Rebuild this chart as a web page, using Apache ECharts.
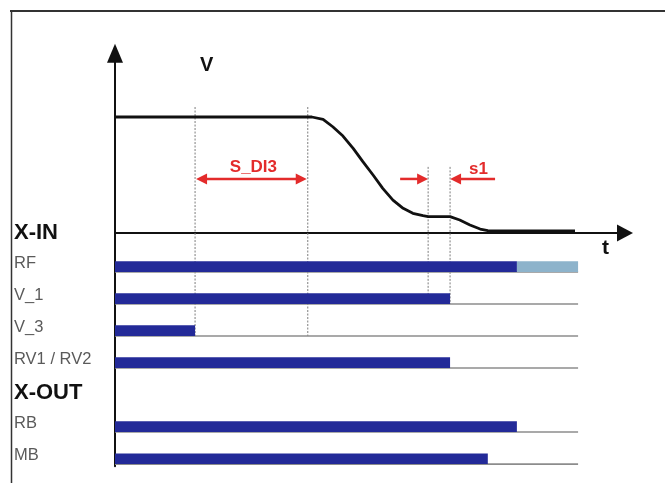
<!DOCTYPE html>
<html>
<head>
<meta charset="utf-8">
<script src="https://cdn.jsdelivr.net/npm/echarts@6/dist/echarts.min.js"></script>
<style>
  html, body { margin: 0; padding: 0; background: #fff; }
  #chart { width: 665px; height: 483px; }
</style>
</head>
<body>
<div id="chart"></div>
<script>
// Speed profile v(t) of a stop, normalised to travel speed (1 = full speed)
const speedT = [0, 37.8, 38.6, 40.8, 42.7, 44.7, 46.7, 48.6, 50.6, 52.5, 54.5, 56.5, 58.4, 60.4, 61.4, 65.7, 67.6, 69.6, 71.6, 73.1, 90.2];
const speedV = [1, 1, 1, 0.98, 0.916, 0.836, 0.73, 0.615, 0.5, 0.385, 0.284, 0.213, 0.17, 0.149, 0.141, 0.141, 0.112, 0.069, 0.034, 0.02, 0.018];

// Signal lanes, top to bottom (headers carry no signal)
const laneNames = ['X-IN', 'RF', 'V_1', 'V_3', 'RV1 / RV2', 'X-OUT', 'RB', 'MB'];
const laneIsHeader = [true, false, false, false, false, true, false, false];
const laneHighUntil = [null, 78.8, 65.7, 15.7, 65.7, null, 78.8, 73.1];
const laneFadeUntil = [null, 90.8, null, null, null, null, null, null];
const laneEnd = 90.8;

// Event instants with dotted guides, and the lane each guide runs down to
const markerT = [15.7, 37.8, 61.4, 65.7];
const markerLane = [3, 3, 2, 2];

// Distance annotations between two instants
const spanNames = ['S_DI3', 's1'];
const spanFrom = [15.7, 61.4];
const spanTo = [37.8, 65.7];

// ---- layout / style ----
const LANE_TOP = -0.017, LANE_STEP = 0.276;           // lane centres in speed units
const laneY = i => LANE_TOP - i * LANE_STEP;
const GUIDE_TOP = [1.086, 1.086, 0.57, 0.57];
const SPAN_LEVEL = 0.466;
const RED = '#e32b2b';
const BLUE = '#232a98';
const FADE = '#8db3cb';
const FONT = '"Liberation Sans", Arial, sans-serif';

function arrowHead(tip, dir) {
  // filled triangle with its tip at `tip`, pointing along dir (+1 right, -1 left)
  const len = 11, half = 5.5;
  return [[tip[0], tip[1]], [tip[0] - dir * len, tip[1] - half], [tip[0] - dir * len, tip[1] + half]];
}

const chart = echarts.init(document.getElementById('chart'), null, { renderer: 'canvas' });

chart.setOption({
  animation: false,
  backgroundColor: '#fff',
  grid: { left: 115, top: 53.2, width: 510, height: 412.96, outerBoundsMode: 'none' },
  xAxis: {
    type: 'value', min: 0, max: 100,
    name: 't', nameLocation: 'end', nameGap: -23,
    nameTextStyle: { fontFamily: FONT, fontSize: 21, fontWeight: 'bold', color: '#111', verticalAlign: 'top', lineHeight: 30 },
    axisLine: { onZero: true, lineStyle: { color: '#111', width: 2 }, symbol: ['none', 'triangle'], symbolSize: [17, 16] },
    axisTick: { show: false }, axisLabel: { show: false }, splitLine: { show: false }
  },
  yAxis: {
    type: 'value', min: -2.01, max: 1.55,
    name: 'V', nameLocation: 'end', nameGap: -12,
    nameTextStyle: { fontFamily: FONT, fontSize: 20, fontWeight: 'bold', color: '#111', align: 'left', verticalAlign: 'middle', padding: [0, 0, 0, 85] },
    axisLine: { lineStyle: { color: '#111', width: 2 }, symbol: ['none', 'triangle'], symbolSize: [16, 19] },
    axisTick: { show: false }, axisLabel: { show: false }, splitLine: { show: false }
  },
  graphic: [
    { type: 'line', shape: { x1: 10, y1: 11, x2: 665, y2: 11 }, style: { stroke: '#333', lineWidth: 2 } },
    { type: 'line', shape: { x1: 11.5, y1: 11, x2: 11.5, y2: 483 }, style: { stroke: '#333', lineWidth: 1.5 } }
  ],
  series: [
    // dotted guides at the event instants
    {
      type: 'custom', silent: true, z: 1,
      data: markerT.map((t, i) => [t, i]),
      renderItem(params, api) {
        const i = params.dataIndex;
        const top = api.coord([markerT[i], GUIDE_TOP[i]]);
        const base = api.coord([markerT[i], laneY(markerLane[i])])[1] + 5;
        return {
          type: 'line',
          shape: { x1: top[0], y1: top[1], x2: top[0], y2: base },
          style: { stroke: '#7d7d7d', lineWidth: 1, lineDash: [2, 1.5] }
        };
      }
    },
    // signal lanes: baseline, active bar, label
    {
      type: 'custom', silent: true, z: 2,
      data: laneNames.map((n, i) => [0, i]),
      renderItem(params, api) {
        const i = params.dataIndex;
        const c = api.coord([0, laneY(i)]);
        const children = [];
        if (laneIsHeader[i]) {
          children.push({
            type: 'text',
            style: { text: laneNames[i], x: 14, y: c[1] - 2, fill: '#111', font: 'bold 22px ' + FONT, align: 'left', verticalAlign: 'middle' }
          });
        } else {
          const base = c[1] + 5;
          const xEnd = api.coord([laneEnd, 0])[0];
          children.push({ type: 'line', shape: { x1: c[0], y1: base, x2: xEnd, y2: base }, style: { stroke: '#8c8c8c', lineWidth: 1.6 } });
          if (laneFadeUntil[i] != null) {
            const x0 = api.coord([laneHighUntil[i], 0])[0];
            const x1 = api.coord([laneFadeUntil[i], 0])[0];
            children.push({ type: 'rect', shape: { x: x0, y: base - 10.7, width: x1 - x0, height: 10.7 }, style: { fill: FADE } });
          }
          const xh = api.coord([laneHighUntil[i], 0])[0];
          children.push({ type: 'rect', shape: { x: c[0], y: base - 10.7, width: xh - c[0], height: 10.7 }, style: { fill: BLUE } });
          children.push({
            type: 'text',
            style: { text: laneNames[i], x: 14, y: c[1] - 4, fill: '#5a5a5a', font: '16.5px ' + FONT, align: 'left', verticalAlign: 'middle' }
          });
        }
        return { type: 'group', children };
      }
    },
    // speed curve
    {
      type: 'line', z: 4,
      data: speedT.map((t, i) => [t, speedV[i]]),
      showSymbol: false, smooth: false,
      lineStyle: { color: '#111', width: 2.8 },
      silent: true
    },
    // distance annotations
    {
      type: 'custom', silent: true, z: 5,
      data: spanNames.map((n, i) => [spanFrom[i], spanTo[i]]),
      renderItem(params, api) {
        const i = params.dataIndex;
        const a = api.coord([spanFrom[i], SPAN_LEVEL]);
        const b = api.coord([spanTo[i], SPAN_LEVEL]);
        const y = a[1];
        const children = [];
        const stroke = { stroke: RED, lineWidth: 2.5 };
        if (i === 0) {
          // double arrow between the two instants
          children.push({ type: 'line', shape: { x1: a[0] + 6, y1: y, x2: b[0] - 6, y2: y }, style: stroke });
          children.push({ type: 'polygon', shape: { points: arrowHead([a[0] + 1, y], -1) }, style: { fill: RED } });
          children.push({ type: 'polygon', shape: { points: arrowHead([b[0] - 1, y], 1) }, style: { fill: RED } });
          children.push({ type: 'text', style: { text: spanNames[i], x: (a[0] + b[0]) / 2 + 2, y: y - 12, fill: RED, font: 'bold 17px ' + FONT, align: 'center', verticalAlign: 'middle' } });
        } else {
          // arrows pointing in from outside the short span
          children.push({ type: 'line', shape: { x1: a[0] - 28, y1: y, x2: a[0] - 6, y2: y }, style: stroke });
          children.push({ type: 'polygon', shape: { points: arrowHead([a[0], y], 1) }, style: { fill: RED } });
          children.push({ type: 'line', shape: { x1: b[0] + 45, y1: y, x2: b[0] + 6, y2: y }, style: stroke });
          children.push({ type: 'polygon', shape: { points: arrowHead([b[0], y], -1) }, style: { fill: RED } });
          children.push({ type: 'text', style: { text: spanNames[i], x: b[0] + 28.5, y: y - 10, fill: RED, font: 'bold 17px ' + FONT, align: 'center', verticalAlign: 'middle' } });
        }
        return { type: 'group', children };
      }
    }
  ]
});
</script>
</body>
</html>
